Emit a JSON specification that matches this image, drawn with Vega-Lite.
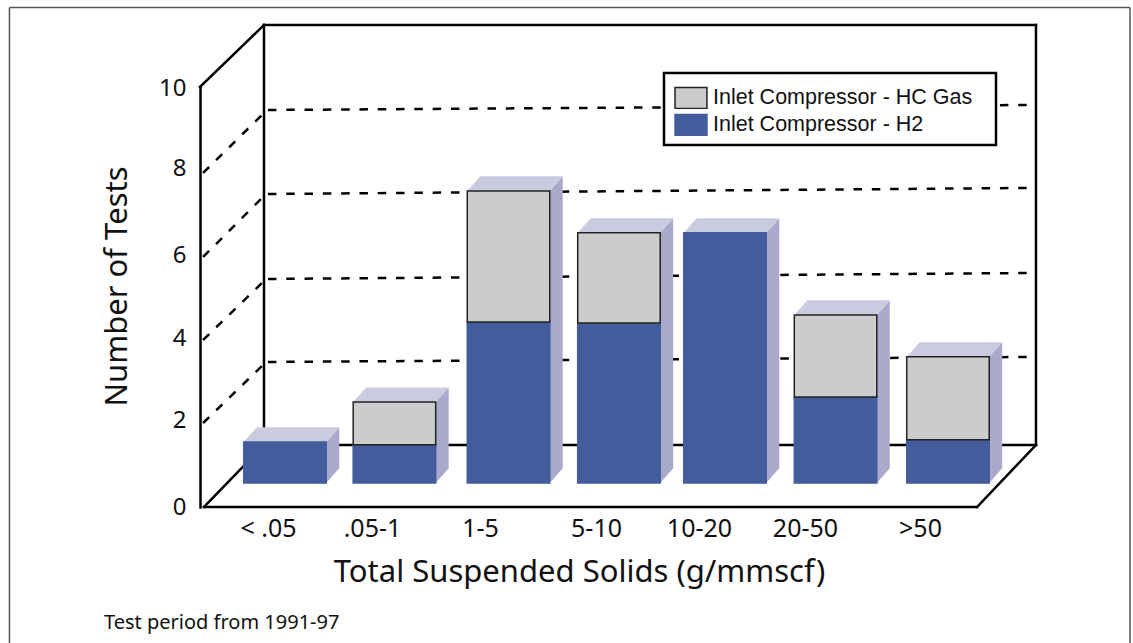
{
"$schema":"https://vega.github.io/schema/vega-lite/v6.json",
"width":1133,"height":643,"padding":0,"autosize":{"type":"none"},"background":"white",
"title":{"text":"Test period from 1991-97","orient":"bottom","anchor":"start","frame":"group","dx":104,"offset":-31,"font":"Noto Sans","fontSize":20,"fontWeight":"normal","color":"#111"},
"config":{"view":{"stroke":null}},
"datasets":{
"bars":[
{"category":"< .05","pos":0,"series":"Inlet Compressor - H2","value":0.98},
{"category":".05-1","pos":0.995,"series":"Inlet Compressor - H2","value":0.91},
{"category":".05-1","pos":0.995,"series":"Inlet Compressor - HC Gas","value":1.02},
{"category":"1-5","pos":2.032,"series":"Inlet Compressor - H2","value":3.84},
{"category":"1-5","pos":2.032,"series":"Inlet Compressor - HC Gas","value":3.13},
{"category":"5-10","pos":3.036,"series":"Inlet Compressor - H2","value":3.82},
{"category":"5-10","pos":3.036,"series":"Inlet Compressor - HC Gas","value":2.15},
{"category":"10-20","pos":4.0,"series":"Inlet Compressor - H2","value":5.97},
{"category":"20-50","pos":5.005,"series":"Inlet Compressor - H2","value":2.05},
{"category":"20-50","pos":5.005,"series":"Inlet Compressor - HC Gas","value":1.96},
{"category":">50","pos":6.027,"series":"Inlet Compressor - H2","value":1.03},
{"category":">50","pos":6.027,"series":"Inlet Compressor - HC Gas","value":1.98}
],
"frame":[
{"u":-0.768,"u2":-0.768,"v":9.451,"v2":-0.585},
{"u":-0.773,"u2":-0.191,"v":9.451,"v2":10.931},
{"u":-0.191,"u2":-0.191,"v":10.931,"v2":0.907},
{"u":-0.191,"u2":6.827,"v":10.931,"v2":10.931},
{"u":6.827,"u2":6.827,"v":10.931,"v2":0.907},
{"u":-0.191,"u2":6.827,"v":0.907,"v2":0.907},
{"u":-0.736,"u2":6.291,"v":-0.573,"v2":-0.573},
{"u":-0.736,"u2":-0.191,"v":-0.573,"v2":0.907},
{"u":6.291,"u2":6.827,"v":-0.573,"v2":0.907}
],
"grid":[
{"u":-0.155,"u2":6.745,"v":2.888,"v2":3.007},
{"u":-0.155,"u2":6.745,"v":4.869,"v2":5.012},
{"u":-0.155,"u2":6.745,"v":6.897,"v2":7.041},
{"u":-0.155,"u2":6.745,"v":8.902,"v2":9.021},
{"u":-0.745,"u2":-0.209,"v":7.399,"v2":8.783},
{"u":-0.745,"u2":-0.209,"v":5.394,"v2":6.802},
{"u":-0.745,"u2":-0.209,"v":3.413,"v2":4.773},
{"u":-0.745,"u2":-0.209,"v":1.432,"v2":2.792}
],
"border":[
{"u":-2.505,"u2":-2.505,"v":11.348,"v2":-3.819},
{"u":7.682,"u2":7.682,"v":11.348,"v2":-3.819},
{"u":-2.505,"u2":7.682,"v":11.348,"v2":11.348}
]
},
"encoding":{
"x":{"field":"u","type":"quantitative","scale":{"domain":[-2.5909,7.7091],"nice":false,"zero":false},
"axis":{"orient":"bottom","offset":-133,"values":[0,1,2,3,4,5,6],"labelExpr":"['< .05','.05-1','1-5','5-10','10-20','20-50','>50'][datum.value]",
"labelOffset":{"expr":"[-17,-23,-25,-19,-26,-30,-25][datum.value]"},
"domain":false,"ticks":false,"grid":false,"labelFont":"Noto Sans","labelFontSize":25,"labelColor":"#111","labelPadding":6,"labelFlush":false,"labelOverlap":false,
"title":"Total Suspended Solids (g/mmscf)","titleFont":"Noto Sans","titleFontSize":31,"titleFontWeight":"normal","titleColor":"#111","titleX":579,"titleY":62,"titleBaseline":"middle"}},
"y":{"field":"v","type":"quantitative","stack":null,"scale":{"domain":[-3.819,11.527],"nice":false,"zero":false},
"axis":{"orient":"left","offset":-190,"values":[0,2,4,6,8,10],
"labelOffset":{"expr":"[25,21,23,24,21,25][datum.value/2]"},
"domain":false,"ticks":false,"grid":false,"labelFont":"Noto Sans","labelFontSize":24,"labelColor":"#111","labelPadding":4,
"title":"Number of Tests","titleFont":"Noto Sans","titleFontSize":31,"titleFontWeight":"normal","titleColor":"#111","titleX":-73,"titleY":286,"titleBaseline":"middle","titleAngle":-90}}
},
"layer":[
{"data":{"name":"border"},"mark":{"type":"rule","stroke":"#555","strokeWidth":1.5},"encoding":{"x2":{"field":"u2"},"y2":{"field":"v2"}}},
{"data":{"name":"frame"},"mark":{"type":"rule","stroke":"#000","strokeWidth":2.5,"strokeCap":"square"},"encoding":{"x2":{"field":"u2"},"y2":{"field":"v2"}}},
{"data":{"name":"grid"},"mark":{"type":"rule","stroke":"#000","strokeWidth":2.5,"strokeDash":[8.5,9.8]},"encoding":{"x2":{"field":"u2"},"y2":{"field":"v2"}}},
{"data":{"name":"bars"},"transform":[
{"stack":"value","groupby":["category"],"sort":[{"field":"series","order":"ascending"}],"as":["v0","v1"]},
{"aggregate":[{"op":"max","field":"v1","as":"total"}],"groupby":["category","pos"]},
{"calculate":"[0,1]","as":"k"},{"flatten":["k"]},
{"calculate":"datum.pos+0.375+datum.k*0.118","as":"u"},
{"calculate":"datum.total+datum.k*0.35","as":"v"},
{"calculate":"datum.k*0.35","as":"v2"}],
"mark":{"type":"area","fill":"#a9a9cc","stroke":null,"opacity":1},
"encoding":{"y2":{"field":"v2"},"detail":{"field":"category"}}},
{"data":{"name":"bars"},"transform":[
{"stack":"value","groupby":["category"],"sort":[{"field":"series","order":"ascending"}],"as":["v0","v1"]},
{"aggregate":[{"op":"max","field":"v1","as":"total"}],"groupby":["category","pos"]},
{"calculate":"[0,1,2,3]","as":"k"},{"flatten":["k"]},
{"calculate":"datum.pos+(datum.k<2?-0.375:0.375)+(datum.k%2)*0.118","as":"u"},
{"calculate":"datum.total+(datum.k==3?0.35:0)","as":"v"},
{"calculate":"datum.total+(datum.k==0?0:0.35)","as":"v2"}],
"mark":{"type":"area","fill":"#cbcbe0","stroke":null,"opacity":1},
"encoding":{"y2":{"field":"v2"},"detail":{"field":"category"}}},
{"data":{"name":"bars"},"transform":[
{"stack":"value","groupby":["category"],"sort":[{"field":"series","order":"ascending"}],"as":["v0","v1"]},
{"calculate":"datum.pos-0.375","as":"u"},{"calculate":"datum.pos+0.375","as":"u2"},
{"calculate":"datum.v1","as":"v"},{"calculate":"datum.v0","as":"v2"}],
"mark":{"type":"rect","strokeWidth":1.5,"opacity":1},
"encoding":{"x2":{"field":"u2"},"y2":{"field":"v2"},
"order":{"field":"series"},
"fill":{"field":"series","type":"nominal","scale":{"domain":["Inlet Compressor - HC Gas","Inlet Compressor - H2"],"range":["#cccccc","#425c9c"]},
"legend":{"title":" ","titleOrient":"right","titlePadding":15,"titleFontSize":1,"orient":"none","legendX":664,"legendY":73,"fillColor":"white","strokeColor":"#000","padding":9,
"symbolType":"M-1.33,-0.875H1.33V0.875H-1.33Z","symbolSize":576,"symbolStrokeWidth":1.5,"symbolOpacity":1,"symbolOffset":5,"labelOffset":9,"rowPadding":0,"clipHeight":27,"labelFont":"Liberation Sans","labelFontSize":21.5,"labelColor":"#111","labelLimit":320,
"encode":{"legend":{"update":{"strokeWidth":{"value":2.5}}},"symbols":{"update":{"y":{"value":16}}},"labels":{"update":{"y":{"value":16}}}}}},
"stroke":{"field":"series","type":"nominal","scale":{"domain":["Inlet Compressor - HC Gas","Inlet Compressor - H2"],"range":["#222222","#425c9c"]},"legend":{"title":" "}}}}
]
}
